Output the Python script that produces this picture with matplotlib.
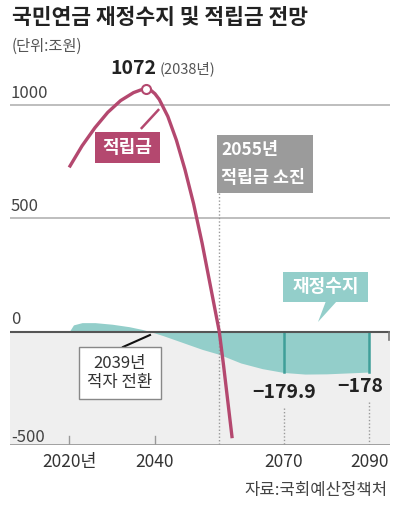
import matplotlib.pyplot as plt
from matplotlib.patches import Rectangle, Polygon

plt.rcParams['font.family'] = ['Noto Sans CJK KR', 'DejaVu Sans']

# 적립금 (reserve fund), 조원
fund_years = [2020, 2023, 2026, 2029, 2032, 2035, 2037, 2038, 2039, 2040,
              2041, 2043, 2045, 2047, 2049, 2051, 2053, 2055, 2056, 2057, 2058]
fund_vals = [725, 820, 900, 968, 1020, 1055, 1069, 1072, 1066, 1050,
             1025, 950, 845, 715, 565, 390, 195, 0, -150, -310, -470]

# 재정수지 (fiscal balance), 조원
bal_years = [2020, 2021, 2023, 2026, 2030, 2034, 2037, 2039, 2042, 2045,
             2048, 2051, 2055, 2060, 2065, 2070, 2075, 2080, 2085, 2090]
bal_vals = [0, 30, 40, 40, 33, 22, 10, 0, -18, -38,
            -58, -78, -100, -138, -163, -179.9, -187, -186, -182, -178]

peak_year, peak_val = 2038, 1072
label_years = [2070, 2090]
label_vals = ['\u2212179.9', '\u2212178']

y_ticks = [1000, 500, 0, -500]
x_ticks = [2020, 2040, 2070, 2090]
x_tick_labels = ['2020년', '2040', '2070', '2090']

PINK = '#b4486f'
TEAL = '#93ceca'
TEAL_DARK = '#3f9f99'

W, H = 406, 514
fig = plt.figure(figsize=(W / 100, H / 100), dpi=100)

# axes placed in pixels: x 10..390, y 445(-500)..71(1150)
X0, X1 = 2006.2, 2094.8
Y0, Y1 = -500, 1150
PX_L, PX_R, PY_B, PY_T = 10, 390, 445, 71.1
ax = fig.add_axes([PX_L / W, 1 - PY_B / H, (PX_R - PX_L) / W, (PY_B - PY_T) / H])
ax.set_xlim(X0, X1)
ax.set_ylim(Y0, Y1)
ax.axis('off')


def dx(px):
    return X0 + (px - PX_L) / (PX_R - PX_L) * (X1 - X0)


def dy(py):
    return Y0 + (PY_B - py) / (PY_B - PY_T) * (Y1 - Y0)


# background / grid
ax.axhspan(-500, 0, color='#efefef', zorder=0, lw=0)
for v in (1000, 500):
    ax.axhline(v, color='#b3b3b3', lw=1.2, zorder=1)
ax.axhline(-500, color='#9a9a9a', lw=1.3, zorder=1)

for v in y_ticks:
    off = 35 if v == -500 else 53
    ax.text(dx(11), v + off, str(v), ha='left', va='center',
            fontsize=12, color='#444444', zorder=6)

# x ticks
for yr, lab in zip(x_ticks, x_tick_labels):
    if yr < 2050:
        ax.plot([yr, yr], [-500, dy(436)], color='#999999', lw=1, zorder=1)
    ax.text(yr, dy(462), lab, ha='center', va='center', fontsize=12.5,
            color='#333333')

# fiscal balance area
ax.fill_between(bal_years, bal_vals, 0, color=TEAL, lw=0, zorder=2)
for yr in label_years:
    v = bal_vals[bal_years.index(yr)]
    ax.plot([yr, yr], [0, v], color=TEAL_DARK, lw=1.8, zorder=3)

# dotted guides
ax.plot([2055, 2055], [dy(193), -500], color='#999999', lw=1, ls=(0, (1, 1.5)), zorder=4)
ax.plot([2070, 2070], [dy(408), -500], color='#999999', lw=1, ls=(0, (1, 1.5)), zorder=4)
ax.plot([2090, 2090], [dy(402), -500], color='#999999', lw=1, ls=(0, (1, 1.5)), zorder=4)

# zero line
ax.axhline(0, color='#555555', lw=1.5, zorder=4)
ax.plot([X1 - 0.15, X1 - 0.15], [0, dy(340)], color='#777777', lw=1.2, zorder=4)

# fund line
ax.plot(fund_years, fund_vals, color=PINK, lw=2.4, zorder=5,
        solid_capstyle='butt', solid_joinstyle='round')
ax.plot([peak_year], [peak_val], 'o', ms=6.5, mfc='white', mec=PINK,
        mew=1.5, zorder=6)

# peak label
ax.text(dx(110), dy(68), f'{peak_val}', ha='left', va='center',
        fontsize=14, fontweight='bold', color='#222222')
ax.text(dx(160), dy(69), f'({peak_year}년)', ha='left', va='center',
        fontsize=10.5, color='#555555')

# 적립금 box
ax.plot([dx(141.7), dx(158.3)], [dy(128), dy(110)], color=PINK, lw=1.8, zorder=6)
ax.add_patch(Rectangle((dx(95), dy(163)), dx(160) - dx(95), dy(132) - dy(163),
                       color=PINK, lw=0, zorder=6))
ax.text(dx(127.5), dy(147.5), '적립금', ha='center', va='center',
        fontsize=13, fontweight='bold', color='white', zorder=7)

# 2055 box
ax.add_patch(Rectangle((dx(217), dy(193)), dx(313) - dx(217), dy(135) - dy(193),
                       color='#9b9b9b', lw=0, zorder=6))
ax.text(dx(221), dy(150), '2055년', ha='left', va='center',
        fontsize=12.5, fontweight='bold', color='white', zorder=7)
ax.text(dx(221), dy(178), '적립금 소진', ha='left', va='center',
        fontsize=12.5, fontweight='bold', color='white', zorder=7)

# 재정수지 callout
ax.add_patch(Rectangle((dx(283), dy(302)), dx(368) - dx(283), dy(272) - dy(302),
                       color=TEAL, lw=0, zorder=6))
ax.add_patch(Polygon([(dx(326), dy(301)), (dx(337), dy(301)), (dx(318), dy(322))],
                     closed=True, color=TEAL, lw=0, zorder=6))
ax.text(dx(325.5), dy(287), '재정수지', ha='center', va='center',
        fontsize=13, fontweight='bold', color='white', zorder=7)

# 2039 box
ax.plot([dx(123), dx(150)], [dy(347), dy(335)], color='#111111', lw=1.5, zorder=6)
ax.add_patch(Rectangle((dx(79), dy(399)), dx(161) - dx(79), dy(347) - dy(399),
                       facecolor='white', edgecolor='#888888', lw=1, zorder=6))
ax.text(dx(120), dy(373), '2039년\n적자 전환', ha='center', va='center',
        fontsize=12, color='#333333', linespacing=1.2, zorder=7)

# value labels
ax.text(2070, dy(393), label_vals[0], ha='center', va='center',
        fontsize=14, fontweight='bold', color='#222222', zorder=7)
ax.text(dx(360), dy(387), label_vals[1], ha='center', va='center',
        fontsize=14, fontweight='bold', color='#222222', zorder=7)

# title, unit, source
fig.text(12 / W, 1 - 17 / H, '국민연금 재정수지 및 적립금 전망', ha='left',
         va='center', fontsize=15.5, fontweight='bold', color='#222222')
fig.text(12 / W, 1 - 46 / H, '(단위:조원)', ha='left', va='center',
         fontsize=11, color='#555555')
fig.text(388 / W, 1 - 491 / H, '자료:국회예산정책처', ha='right', va='center',
         fontsize=12, color='#444444')

fig.savefig('out.png', dpi=100)
